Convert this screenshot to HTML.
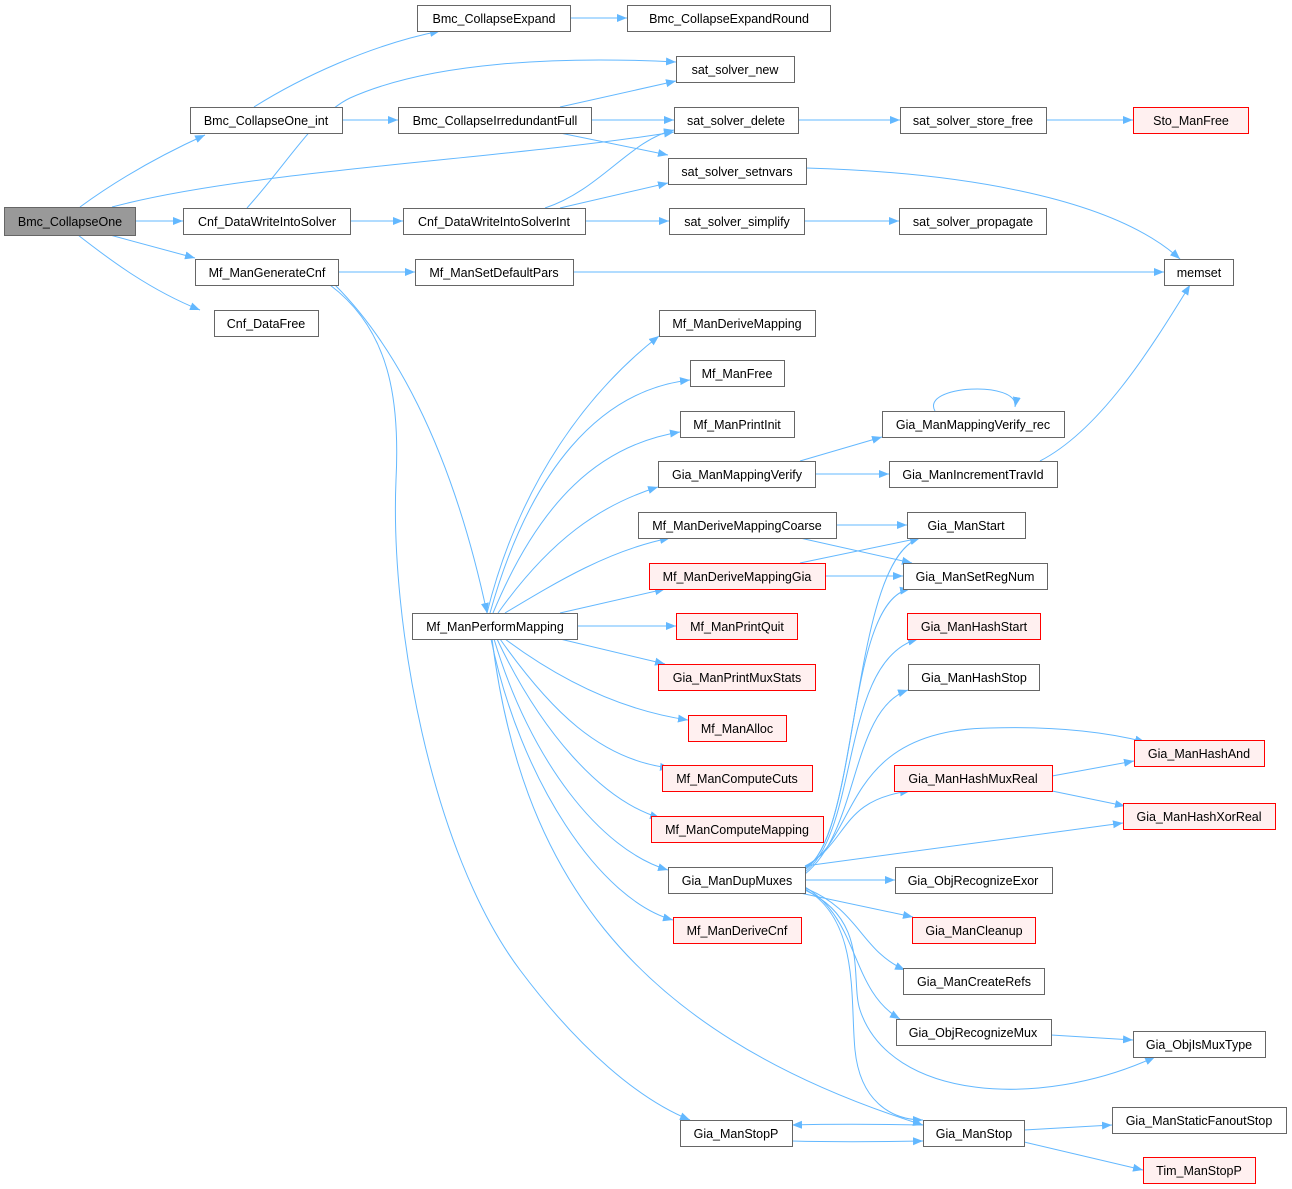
<!DOCTYPE html>
<html><head><meta charset="utf-8"><style>
html,body{margin:0;padding:0;background:#fff;}
svg{display:block;}
text{font-family:"Liberation Sans",Arial,sans-serif;font-size:12.5px;fill:#000;}
.n rect{fill:#fff;stroke:#666;stroke-width:1;}
.r rect{fill:#fff0f0;stroke:#ff0000;stroke-width:1;}
.e{fill:none;stroke:#63b8ff;stroke-width:1;}
</style></head><body>
<svg width="1292" height="1189" viewBox="0 0 1292 1189" xmlns="http://www.w3.org/2000/svg">
<defs><marker id="a" viewBox="0 0 10 10" refX="10" refY="5" markerWidth="10" markerHeight="10" markerUnits="userSpaceOnUse" orient="auto"><path d="M0,1 L10,5 L0,9 z" fill="#63b8ff"/></marker></defs>
<g marker-end="url(#a)">
<path class="e" d="M80,207 C110,185 150,160 205,135"/>
<path class="e" d="M112,207 C250,170 500,160 674,132"/>
<path class="e" d="M135,221 L183,221"/>
<path class="e" d="M110,235 L195,258"/>
<path class="e" d="M78,235 C110,260 150,290 200,310"/>
<path class="e" d="M254,107 C300,78 370,45 440,31"/>
<path class="e" d="M342,120 L398,120"/>
<path class="e" d="M560,107 L676,81"/>
<path class="e" d="M591,120 L674,120"/>
<path class="e" d="M560,133 L668,155"/>
<path class="e" d="M570,18 L627,18"/>
<path class="e" d="M247,208 C290,160 315,115 350,98 C430,62 560,56 676,62"/>
<path class="e" d="M350,221 L403,221"/>
<path class="e" d="M545,208 C600,190 630,140 674,130"/>
<path class="e" d="M560,208 L668,183"/>
<path class="e" d="M585,221 L669,221"/>
<path class="e" d="M804,221 L899,221"/>
<path class="e" d="M798,120 L900,120"/>
<path class="e" d="M1046,120 L1133,120"/>
<path class="e" d="M806,168 C950,172 1110,195 1180,259"/>
<path class="e" d="M338,272 L415,272"/>
<path class="e" d="M573,272 L1164,272"/>
<path class="e" d="M335,285 C390,340 450,440 487,613"/>
<path class="e" d="M330,285 C390,330 400,400 396,480 C390,620 430,850 520,970 C580,1050 640,1100 690,1120"/>
<path class="e" d="M487,613 C520,480 590,390 659,336"/>
<path class="e" d="M490,613 C530,470 600,390 690,380"/>
<path class="e" d="M493,613 C540,500 600,445 680,432"/>
<path class="e" d="M498,613 C550,540 600,505 658,487"/>
<path class="e" d="M505,613 C560,580 610,550 670,538"/>
<path class="e" d="M560,613 L665,589"/>
<path class="e" d="M577,626 L676,626"/>
<path class="e" d="M560,639 L665,664"/>
<path class="e" d="M505,639 C560,680 620,710 688,720"/>
<path class="e" d="M500,639 C550,710 600,760 670,768"/>
<path class="e" d="M497,639 C540,730 600,800 660,818"/>
<path class="e" d="M494,639 C530,760 600,850 668,870"/>
<path class="e" d="M491,639 C520,780 600,900 673,920"/>
<path class="e" d="M492,639 C520,860 620,1030 923,1125"/>
<path class="e" d="M800,461 L882,437"/>
<path class="e" d="M815,474 L889,474"/>
<path class="e" d="M935,411 C920,385 1020,380 1015,407"/>
<path class="e" d="M1040,461 C1100,430 1150,350 1190,285"/>
<path class="e" d="M836,525 L907,525"/>
<path class="e" d="M800,538 L912,563"/>
<path class="e" d="M800,563 L920,538"/>
<path class="e" d="M825,576 L903,576"/>
<path class="e" d="M805,868 C860,840 850,560 920,538"/>
<path class="e" d="M805,870 C860,830 845,600 910,589"/>
<path class="e" d="M805,872 C860,830 840,660 918,639"/>
<path class="e" d="M805,874 C860,830 850,710 908,690"/>
<path class="e" d="M805,866 C860,840 840,730 990,728 C1060,726 1110,733 1145,742"/>
<path class="e" d="M805,867 C850,840 840,800 910,791"/>
<path class="e" d="M805,866 L1123,823"/>
<path class="e" d="M805,880 L895,880"/>
<path class="e" d="M800,893 L913,917"/>
<path class="e" d="M805,888 C860,910 860,950 905,970"/>
<path class="e" d="M805,887 C860,920 850,990 900,1019"/>
<path class="e" d="M805,890 C870,920 850,980 860,1010 C890,1100 1040,1110 1155,1057"/>
<path class="e" d="M805,889 C860,920 850,1000 855,1050 C860,1100 890,1120 923,1120"/>
<path class="e" d="M1052,776 L1134,761"/>
<path class="e" d="M1052,791 L1125,806"/>
<path class="e" d="M1051,1035 L1133,1040"/>
<path class="e" d="M1024,1130 L1112,1125"/>
<path class="e" d="M1024,1142 L1143,1170"/>
<path class="e" d="M923,1125 C870,1124 830,1124 792,1125"/>
<path class="e" d="M792,1141 C830,1142 870,1142 923,1141"/>
</g>
<g class="n"><rect x="4.5" y="207.5" width="131" height="28" style="fill:#999"/><text x="70" y="226" text-anchor="middle">Bmc_CollapseOne</text></g>
<g class="n"><rect x="190.5" y="107.5" width="152" height="26"/><text x="266" y="125" text-anchor="middle">Bmc_CollapseOne_int</text></g>
<g class="n"><rect x="417.5" y="5.5" width="153" height="26"/><text x="494" y="23" text-anchor="middle">Bmc_CollapseExpand</text></g>
<g class="n"><rect x="627.5" y="5.5" width="203" height="26"/><text x="729" y="23" text-anchor="middle">Bmc_CollapseExpandRound</text></g>
<g class="n"><rect x="676.5" y="56.5" width="118" height="26"/><text x="735" y="74" text-anchor="middle">sat_solver_new</text></g>
<g class="n"><rect x="398.5" y="107.5" width="193" height="26"/><text x="495" y="125" text-anchor="middle">Bmc_CollapseIrredundantFull</text></g>
<g class="n"><rect x="674.5" y="107.5" width="124" height="26"/><text x="736" y="125" text-anchor="middle">sat_solver_delete</text></g>
<g class="n"><rect x="900.5" y="107.5" width="146" height="26"/><text x="973" y="125" text-anchor="middle">sat_solver_store_free</text></g>
<g class="r"><rect x="1133.5" y="107.5" width="115" height="26"/><text x="1191" y="125" text-anchor="middle">Sto_ManFree</text></g>
<g class="n"><rect x="668.5" y="158.5" width="138" height="26"/><text x="737" y="176" text-anchor="middle">sat_solver_setnvars</text></g>
<g class="n"><rect x="183.5" y="208.5" width="167" height="26"/><text x="267" y="226" text-anchor="middle">Cnf_DataWriteIntoSolver</text></g>
<g class="n"><rect x="403.5" y="208.5" width="182" height="26"/><text x="494" y="226" text-anchor="middle">Cnf_DataWriteIntoSolverInt</text></g>
<g class="n"><rect x="669.5" y="208.5" width="135" height="26"/><text x="737" y="226" text-anchor="middle">sat_solver_simplify</text></g>
<g class="n"><rect x="899.5" y="208.5" width="147" height="26"/><text x="973" y="226" text-anchor="middle">sat_solver_propagate</text></g>
<g class="n"><rect x="1164.5" y="259.5" width="69" height="26"/><text x="1199" y="277" text-anchor="middle">memset</text></g>
<g class="n"><rect x="195.5" y="259.5" width="143" height="26"/><text x="267" y="277" text-anchor="middle">Mf_ManGenerateCnf</text></g>
<g class="n"><rect x="415.5" y="259.5" width="158" height="26"/><text x="494" y="277" text-anchor="middle">Mf_ManSetDefaultPars</text></g>
<g class="n"><rect x="214.5" y="310.5" width="104" height="26"/><text x="266" y="328" text-anchor="middle">Cnf_DataFree</text></g>
<g class="n"><rect x="659.5" y="310.5" width="156" height="26"/><text x="737" y="328" text-anchor="middle">Mf_ManDeriveMapping</text></g>
<g class="n"><rect x="690.5" y="360.5" width="94" height="26"/><text x="737" y="378" text-anchor="middle">Mf_ManFree</text></g>
<g class="n"><rect x="680.5" y="411.5" width="114" height="26"/><text x="737" y="429" text-anchor="middle">Mf_ManPrintInit</text></g>
<g class="n"><rect x="882.5" y="411.5" width="182" height="26"/><text x="973" y="429" text-anchor="middle">Gia_ManMappingVerify_rec</text></g>
<g class="n"><rect x="658.5" y="461.5" width="157" height="26"/><text x="737" y="479" text-anchor="middle">Gia_ManMappingVerify</text></g>
<g class="n"><rect x="889.5" y="461.5" width="168" height="26"/><text x="973" y="479" text-anchor="middle">Gia_ManIncrementTravId</text></g>
<g class="n"><rect x="638.5" y="512.5" width="198" height="26"/><text x="737" y="530" text-anchor="middle">Mf_ManDeriveMappingCoarse</text></g>
<g class="n"><rect x="907.5" y="512.5" width="118" height="26"/><text x="966" y="530" text-anchor="middle">Gia_ManStart</text></g>
<g class="r"><rect x="649.5" y="563.5" width="176" height="26"/><text x="737" y="581" text-anchor="middle">Mf_ManDeriveMappingGia</text></g>
<g class="n"><rect x="903.5" y="563.5" width="144" height="26"/><text x="975" y="581" text-anchor="middle">Gia_ManSetRegNum</text></g>
<g class="n"><rect x="412.5" y="613.5" width="165" height="26"/><text x="495" y="631" text-anchor="middle">Mf_ManPerformMapping</text></g>
<g class="r"><rect x="676.5" y="613.5" width="121" height="26"/><text x="737" y="631" text-anchor="middle">Mf_ManPrintQuit</text></g>
<g class="r"><rect x="907.5" y="613.5" width="133" height="26"/><text x="974" y="631" text-anchor="middle">Gia_ManHashStart</text></g>
<g class="r"><rect x="658.5" y="664.5" width="157" height="26"/><text x="737" y="682" text-anchor="middle">Gia_ManPrintMuxStats</text></g>
<g class="n"><rect x="908.5" y="664.5" width="131" height="26"/><text x="974" y="682" text-anchor="middle">Gia_ManHashStop</text></g>
<g class="r"><rect x="688.5" y="715.5" width="98" height="26"/><text x="737" y="733" text-anchor="middle">Mf_ManAlloc</text></g>
<g class="r"><rect x="1134.5" y="740.5" width="130" height="26"/><text x="1199" y="758" text-anchor="middle">Gia_ManHashAnd</text></g>
<g class="r"><rect x="894.5" y="765.5" width="158" height="26"/><text x="973" y="783" text-anchor="middle">Gia_ManHashMuxReal</text></g>
<g class="r"><rect x="662.5" y="765.5" width="150" height="26"/><text x="737" y="783" text-anchor="middle">Mf_ManComputeCuts</text></g>
<g class="r"><rect x="651.5" y="816.5" width="172" height="26"/><text x="737" y="834" text-anchor="middle">Mf_ManComputeMapping</text></g>
<g class="r"><rect x="1123.5" y="803.5" width="152" height="26"/><text x="1199" y="821" text-anchor="middle">Gia_ManHashXorReal</text></g>
<g class="n"><rect x="668.5" y="867.5" width="137" height="26"/><text x="737" y="885" text-anchor="middle">Gia_ManDupMuxes</text></g>
<g class="n"><rect x="895.5" y="867.5" width="157" height="26"/><text x="973" y="885" text-anchor="middle">Gia_ObjRecognizeExor</text></g>
<g class="r"><rect x="673.5" y="917.5" width="128" height="26"/><text x="737" y="935" text-anchor="middle">Mf_ManDeriveCnf</text></g>
<g class="r"><rect x="912.5" y="917.5" width="123" height="26"/><text x="974" y="935" text-anchor="middle">Gia_ManCleanup</text></g>
<g class="n"><rect x="903.5" y="968.5" width="141" height="26"/><text x="974" y="986" text-anchor="middle">Gia_ManCreateRefs</text></g>
<g class="n"><rect x="896.5" y="1019.5" width="155" height="26"/><text x="973" y="1037" text-anchor="middle">Gia_ObjRecognizeMux</text></g>
<g class="n"><rect x="1133.5" y="1031.5" width="132" height="26"/><text x="1199" y="1049" text-anchor="middle">Gia_ObjIsMuxType</text></g>
<g class="n"><rect x="1112.5" y="1107.5" width="174" height="26"/><text x="1199" y="1125" text-anchor="middle">Gia_ManStaticFanoutStop</text></g>
<g class="n"><rect x="680.5" y="1120.5" width="112" height="26"/><text x="736" y="1138" text-anchor="middle">Gia_ManStopP</text></g>
<g class="n"><rect x="923.5" y="1120.5" width="101" height="26"/><text x="974" y="1138" text-anchor="middle">Gia_ManStop</text></g>
<g class="r"><rect x="1143.5" y="1157.5" width="112" height="26"/><text x="1199" y="1175" text-anchor="middle">Tim_ManStopP</text></g>
</svg>
</body></html>
